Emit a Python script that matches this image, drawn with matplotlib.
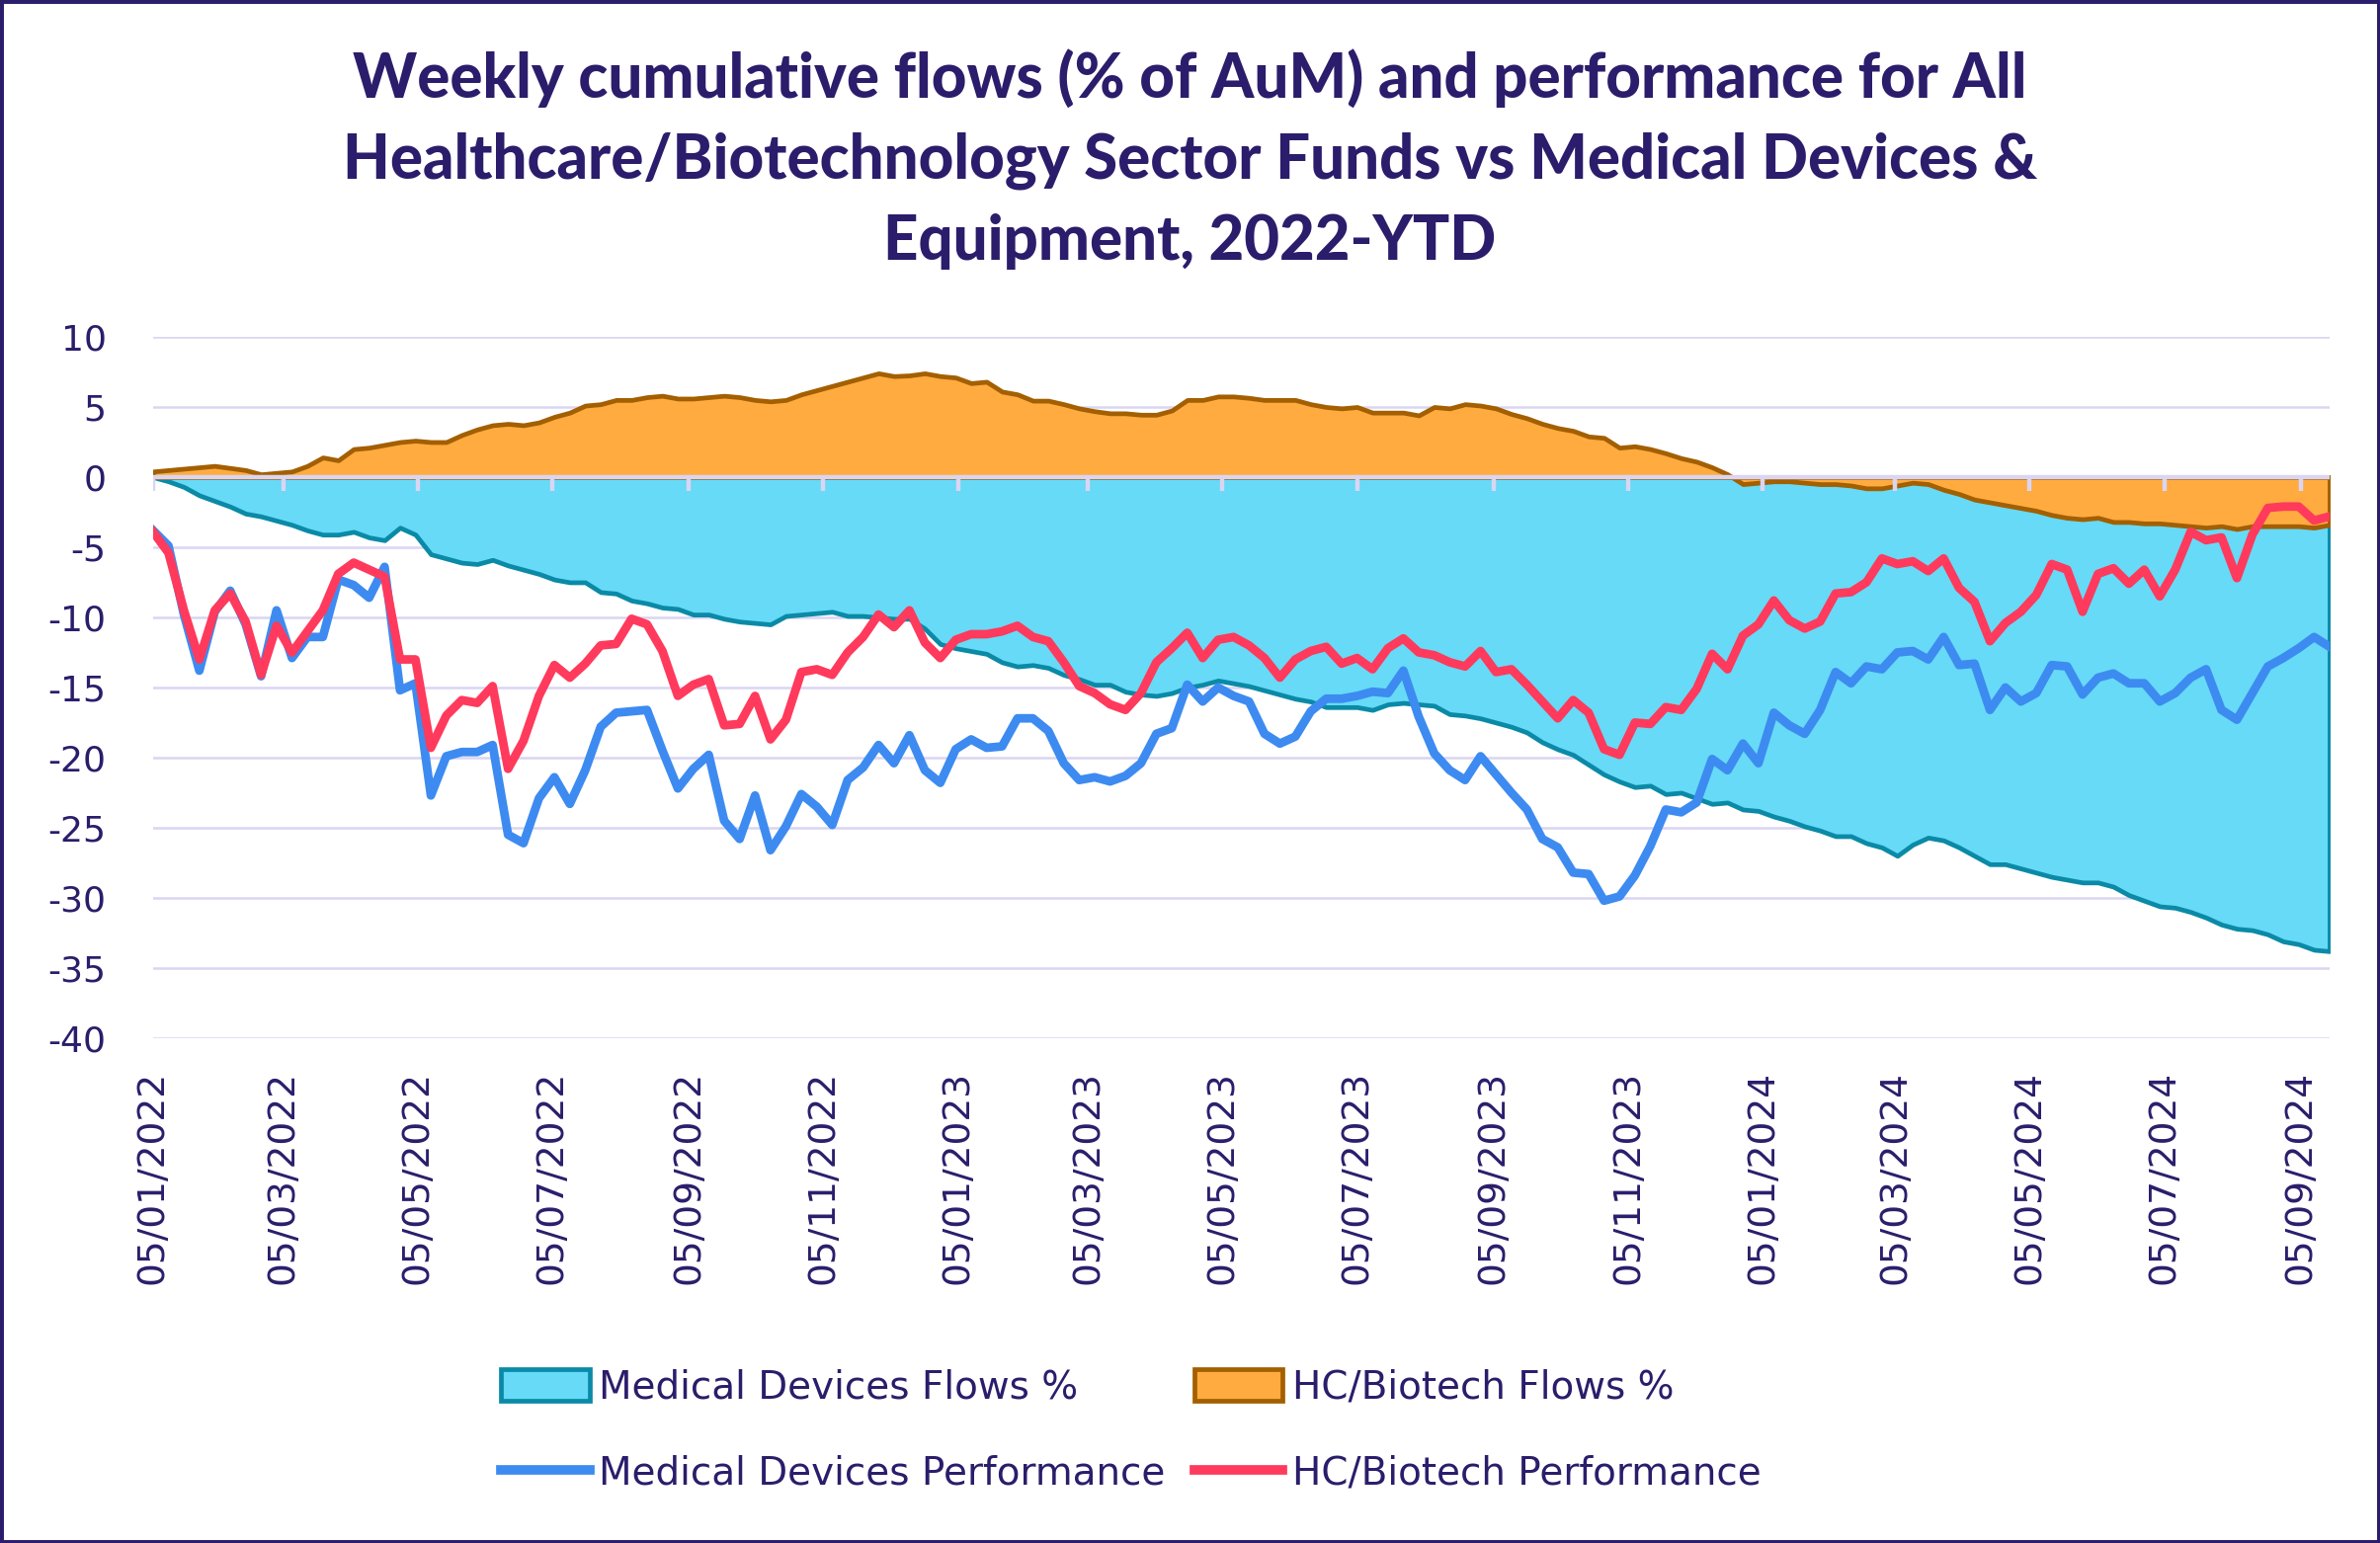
import matplotlib
matplotlib.use("Agg")
import matplotlib.pyplot as plt
from matplotlib.patches import Patch, Rectangle
from matplotlib.lines import Line2D
import pandas as pd

# weekly series, first week 05/01/2022
md_flows = [0.0, -0.3, -0.7, -1.3, -1.7, -2.1, -2.6, -2.8, -3.1, -3.4, -3.8, -4.1, -4.1, -3.9, -4.3, -4.5, -3.6, -4.1, -5.5, -5.8, -6.1, -6.2, -5.9, -6.3, -6.6,
            -6.9, -7.3, -7.5, -7.5, -8.2, -8.3, -8.8, -9.0, -9.3, -9.4, -9.8, -9.8, -10.1, -10.3, -10.4, -10.5, -9.9, -9.8, -9.7, -9.6, -9.9, -9.9, -10.0,
            -10.1, -10.1, -10.8, -11.9, -12.2, -12.4, -12.6, -13.2, -13.5, -13.4, -13.6, -14.1, -14.4, -14.8, -14.8, -15.3, -15.5, -15.6, -15.4, -15.0, -14.8, -14.5, -14.7, -14.9,
            -15.2, -15.5, -15.8, -16.0, -16.4, -16.4, -16.4, -16.6, -16.2, -16.1, -16.2, -16.3, -16.9, -17.0, -17.2, -17.5, -17.8, -18.2, -18.9, -19.4, -19.8, -20.5, -21.2, -21.7,
            -22.1, -22.0, -22.6, -22.5, -22.9, -23.3, -23.2, -23.7, -23.8, -24.2, -24.5, -24.9, -25.2, -25.6, -25.6, -26.1, -26.4, -27.0, -26.2, -25.7, -25.9, -26.4,
            -27.0, -27.6, -27.6, -27.9, -28.2, -28.5, -28.7, -28.9, -28.9, -29.2, -29.8, -30.2, -30.6, -30.7, -31.0, -31.4, -31.9, -32.2, -32.3, -32.6, -33.1, -33.3, -33.7, -33.8]

hc_flows = [0.4, 0.5, 0.6, 0.7, 0.8, 0.65, 0.5, 0.2, 0.3, 0.4, 0.8, 1.4, 1.2, 2.0, 2.1, 2.3, 2.5, 2.6, 2.5, 2.5, 3.0, 3.4, 3.7, 3.8, 3.7,
            3.9, 4.3, 4.6, 5.1, 5.2, 5.5, 5.5, 5.7, 5.8, 5.6, 5.6, 5.7, 5.8, 5.7, 5.5, 5.4, 5.5, 5.9, 6.2, 6.5, 6.8, 7.1, 7.4,
            7.2, 7.25, 7.4, 7.2, 7.1, 6.7, 6.8, 6.1, 5.9, 5.45, 5.45, 5.2, 4.9, 4.7, 4.55, 4.55, 4.45, 4.45, 4.75, 5.5, 5.5, 5.75, 5.75, 5.65,
            5.5, 5.5, 5.5, 5.2, 5.0, 4.9, 5.0, 4.6, 4.6, 4.6, 4.4, 5.0, 4.9, 5.2, 5.1, 4.9, 4.5, 4.2, 3.8, 3.5, 3.3, 2.9, 2.8, 2.1,
            2.2, 2.0, 1.7, 1.35, 1.1, 0.7, 0.2, -0.5, -0.4, -0.3, -0.3, -0.4, -0.5, -0.5, -0.6, -0.8, -0.8, -0.6, -0.4, -0.5, -0.9, -1.2,
            -1.6, -1.8, -2.0, -2.2, -2.4, -2.7, -2.9, -3.0, -2.9, -3.2, -3.2, -3.3, -3.3, -3.4, -3.5, -3.6, -3.5, -3.7, -3.5, -3.5, -3.5, -3.5, -3.6, -3.4]

md_perf = [-3.8, -4.9, -9.8, -13.8, -9.6, -8.1, -10.5, -14.2, -9.5, -12.9, -11.4, -11.4, -7.3, -7.7, -8.6, -6.4, -15.2, -14.7, -22.7, -19.9, -19.6, -19.6, -19.1, -25.5, -26.1,
           -22.9, -21.4, -23.3, -20.9, -17.8, -16.8, -16.7, -16.6, -19.5, -22.2, -20.8, -19.8, -24.5, -25.8, -22.7, -26.6, -24.9, -22.6, -23.5, -24.8, -21.6, -20.7, -19.1,
           -20.4, -18.4, -20.9, -21.8, -19.4, -18.7, -19.3, -19.2, -17.2, -17.2, -18.1, -20.4, -21.6, -21.4, -21.7, -21.3, -20.4, -18.3, -17.9, -14.8, -16.0, -15.0, -15.6, -16.0,
           -18.3, -19.0, -18.5, -16.7, -15.8, -15.8, -15.6, -15.3, -15.4, -13.8, -17.1, -19.7, -20.9, -21.6, -19.9, -21.2, -22.5, -23.7, -25.8, -26.4, -28.2, -28.3, -30.2, -29.9,
           -28.4, -26.3, -23.7, -23.9, -23.2, -20.1, -20.9, -19.0, -20.4, -16.8, -17.7, -18.3, -16.6, -13.9, -14.7, -13.5, -13.7, -12.5, -12.4, -13.0, -11.4, -13.4,
           -13.3, -16.6, -15.0, -16.0, -15.4, -13.4, -13.5, -15.5, -14.3, -14.0, -14.7, -14.7, -16.0, -15.4, -14.3, -13.7, -16.6, -17.3, -15.4, -13.5, -12.9, -12.2, -11.4, -12.1]

hc_perf = [-3.9, -5.4, -9.5, -13.0, -9.5, -8.3, -10.3, -14.1, -10.6, -12.5, -11.0, -9.5, -6.9, -6.1, -6.6, -7.1, -13.0, -13.0, -19.3, -17.0, -15.9, -16.1, -14.9, -20.8, -18.8,
           -15.6, -13.4, -14.3, -13.3, -12.0, -11.9, -10.1, -10.5, -12.4, -15.6, -14.8, -14.4, -17.7, -17.6, -15.6, -18.7, -17.3, -13.9, -13.7, -14.1, -12.5, -11.4, -9.8,
           -10.7, -9.5, -11.8, -12.9, -11.6, -11.2, -11.2, -11.0, -10.6, -11.4, -11.7, -13.2, -14.9, -15.4, -16.2, -16.6, -15.4, -13.2, -12.2, -11.1, -12.9, -11.6, -11.4, -12.0,
           -12.9, -14.3, -13.0, -12.4, -12.1, -13.3, -12.9, -13.7, -12.2, -11.5, -12.5, -12.7, -13.2, -13.5, -12.4, -13.9, -13.7, -14.8, -16.0, -17.2, -15.9, -16.8, -19.4, -19.8,
           -17.5, -17.6, -16.4, -16.6, -15.1, -12.6, -13.7, -11.3, -10.5, -8.8, -10.2, -10.8, -10.3, -8.3, -8.2, -7.5, -5.8, -6.2, -6.0, -6.7, -5.8, -7.9,
           -8.9, -11.7, -10.4, -9.6, -8.4, -6.2, -6.6, -9.6, -6.9, -6.5, -7.6, -6.6, -8.5, -6.6, -3.9, -4.5, -4.3, -7.2, -4.1, -2.2, -2.1, -2.1, -3.1, -2.8]

tick_labels = ['05/01/2022', '05/03/2022', '05/05/2022', '05/07/2022', '05/09/2022', '05/11/2022',
               '05/01/2023', '05/03/2023', '05/05/2023', '05/07/2023', '05/09/2023', '05/11/2023',
               '05/01/2024', '05/03/2024', '05/05/2024', '05/07/2024', '05/09/2024']

dates = pd.date_range('2022-01-05', periods=len(md_perf), freq='7D')
tick_dates = pd.to_datetime(tick_labels, format='%d/%m/%Y')

NAVY = '#2B1D6B'
GRID = '#DAD5F2'
plt.rcParams['axes.unicode_minus'] = False

fig = plt.figure(figsize=(24.09, 15.62), dpi=100)
ax = fig.add_axes([0.0643, 0.3272, 0.9145, 0.4545])

ax.fill_between(dates, 0, md_flows, facecolor='#66DAF7', edgecolor='#0A8AA6', linewidth=3.4, zorder=2)
ax.fill_between(dates, 0, hc_flows, facecolor='#FFAB40', edgecolor='#A35F00', linewidth=3.4, zorder=3)
ax.plot(dates, md_perf, color='#3D8BF0', linewidth=6.3, zorder=5, solid_joinstyle='round')
ax.plot(dates, hc_perf, color='#FF3A5C', linewidth=6.3, zorder=6, solid_joinstyle='round')

# zero line and the little date ticks hanging from it
ax.axhline(0, color=GRID, linewidth=3.2, zorder=4)
ax.vlines(tick_dates, -1.0, 0, color=GRID, linewidth=3.2, zorder=4)

ax.set_ylim(-40, 10)
ax.set_yticks(range(-40, 11, 5))
ax.set_xlim(dates[0], dates[-1])
ax.set_xticks(tick_dates)
ax.set_xticklabels(tick_labels, rotation=90, va='top', ha='center')
ax.yaxis.grid(True, color=GRID, linewidth=1.8)
ax.set_axisbelow(True)
for s in ax.spines.values():
    s.set_visible(False)
ax.tick_params(axis='both', length=0, labelsize=26, labelcolor=NAVY)
ax.tick_params(axis='x', labelsize=27, pad=24)
ax.tick_params(axis='y', pad=34)
for lab in ax.get_xticklabels() + ax.get_yticklabels():
    lab.set_family('DejaVu Sans')

fig.text(0.5, 0.897,
         'Weekly cumulative flows (% of AuM) and performance for All\n'
         'Healthcare/Biotechnology Sector Funds vs Medical Devices &\n'
         'Equipment, 2022-YTD',
         ha='center', va='center', fontsize=44.5, fontweight='black', family='Lato',
         color=NAVY, linespacing=1.52)

handles = [Patch(facecolor='#66DAF7', edgecolor='#0A8AA6', linewidth=3.4),
           Patch(facecolor='#FFAB40', edgecolor='#A35F00', linewidth=3.4),
           Line2D([], [], color='#3D8BF0', linewidth=7),
           Line2D([], [], color='#FF3A5C', linewidth=7)]
labels = ['Medical Devices Flows %', 'HC/Biotech Flows %',
          'Medical Devices Performance', 'HC/Biotech Performance']
order = [0, 2, 1, 3]
leg = fig.legend([handles[i] for i in order], [labels[i] for i in order], ncol=2,
                 loc='center left', bbox_to_anchor=(0.196, 0.073), frameon=False,
                 prop={'family': 'DejaVu Sans', 'size': 28}, labelcolor=NAVY,
                 handlelength=2.3, handleheight=0.9, handletextpad=0.25,
                 columnspacing=0.75, labelspacing=1.25)

fig.add_artist(Rectangle((0, 0), 1, 1, transform=fig.transFigure, fill=False,
                         edgecolor=NAVY, linewidth=5))

fig.savefig('out.png', dpi=100)
